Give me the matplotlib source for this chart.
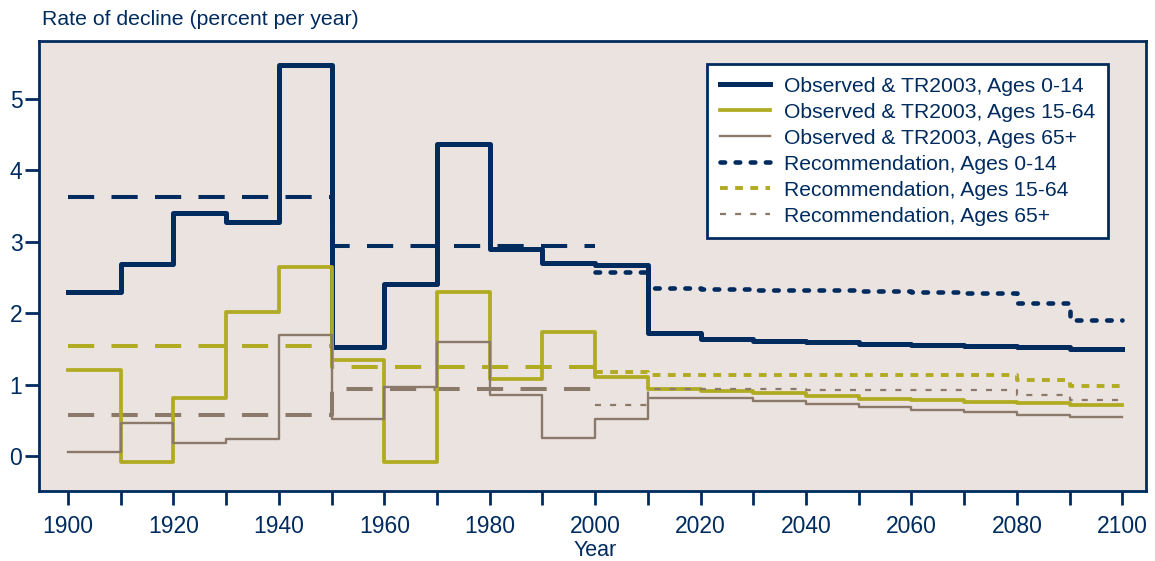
import numpy as np
import matplotlib.pyplot as plt

navy = "#002b5f"
olive = "#b1ab21"
taupe = "#8b7a69"
bg = "#ebe3e0"

plt.rcParams["font.family"] = ["Liberation Sans", "DejaVu Sans"]

# decade start years, observed & TR2003 rates (percent per year)
years_obs = list(range(1900, 2100, 10))
obs_0_14 = [2.29, 2.68, 3.40, 3.27, 5.47, 1.53, 2.41, 4.36, 2.89, 2.70,
            2.67, 1.72, 1.64, 1.61, 1.60, 1.57, 1.55, 1.54, 1.52, 1.50]
obs_15_64 = [1.21, -0.08, 0.81, 2.02, 2.65, 1.34, -0.08, 2.30, 1.08, 1.73,
             1.11, 0.94, 0.91, 0.88, 0.84, 0.80, 0.78, 0.76, 0.74, 0.72]
obs_65 = [0.06, 0.46, 0.18, 0.24, 1.70, 0.52, 0.97, 1.60, 0.85, 0.26,
          0.52, 0.81, 0.81, 0.77, 0.73, 0.69, 0.65, 0.62, 0.58, 0.55]

# recommendation, from 2000 on
years_rec = list(range(2000, 2100, 10))
rec_0_14 = [2.57, 2.35, 2.34, 2.33, 2.32, 2.31, 2.30, 2.28, 2.14, 1.91]
rec_15_64 = [1.18, 1.14, 1.14, 1.14, 1.14, 1.14, 1.14, 1.14, 1.07, 0.98]
rec_65 = [0.71, 0.94, 0.94, 0.94, 0.93, 0.93, 0.93, 0.93, 0.86, 0.78]

# period averages (dashed)
avg_years = [1900, 1950, 2000]
avg_0_14 = [3.63, 2.94]
avg_15_64 = [1.54, 1.25]
avg_65 = [0.57, 0.94]


def ext(v):
    # repeat last value so steps-post draws the final period
    return list(v) + [v[-1]]


obs_x = years_obs + [2100]
rec_x = years_rec + [2100]

fig = plt.figure(figsize=(11.55, 5.61), dpi=100)
ax = fig.add_axes([0.0338, 0.1245, 0.9584, 0.8030])
ax.set_facecolor(bg)

dash = dict(drawstyle="steps-post", dashes=(6.5, 4.3), dash_capstyle="butt")
ax.plot(avg_years, ext(avg_0_14), color=navy, lw=2.9, **dash)
ax.plot(avg_years, ext(avg_15_64), color=olive, lw=2.9, **dash)
ax.plot(avg_years, ext(avg_65), color=taupe, lw=2.9, **dash)

ax.plot(obs_x, ext(obs_0_14), drawstyle="steps-post", color=navy, lw=3.6,
        label="Observed & TR2003, Ages 0-14")
ax.plot(obs_x, ext(obs_15_64), drawstyle="steps-post", color=olive, lw=2.7,
        label="Observed & TR2003, Ages 15-64")
ax.plot(obs_x, ext(obs_65), drawstyle="steps-post", color=taupe, lw=1.7,
        label="Observed & TR2003, Ages 65+")

ax.plot(rec_x, ext(rec_0_14), drawstyle="steps-post", color=navy, lw=3.3,
        dashes=(1.0, 2.3), dash_capstyle="round", label="Recommendation, Ages 0-14")
ax.plot(rec_x, ext(rec_15_64), drawstyle="steps-post", color=olive, lw=2.8,
        dashes=(2.0, 1.9), dash_capstyle="butt", label="Recommendation, Ages 15-64")
ax.plot(rec_x, ext(rec_65), drawstyle="steps-post", color=taupe, lw=1.6,
        dashes=(2.7, 4.1), dash_capstyle="butt", label="Recommendation, Ages 65+")

ax.set_xlim(1894.5, 2104.5)
ax.set_ylim(-0.49, 5.81)
ax.set_xticks(range(1900, 2101, 10))
ax.set_xticklabels([str(y) if y % 20 == 0 else "" for y in range(1900, 2101, 10)])
ax.set_yticks(range(0, 6))

for s in ax.spines.values():
    s.set_color(navy)
    s.set_linewidth(2)
ax.tick_params(colors=navy, labelcolor=navy, width=2, length=10, labelsize=16.5)
ax.tick_params(axis="x", pad=7)
ax.tick_params(axis="y", pad=2)

ax.set_xlabel("Year", color=navy, fontsize=15.5)
ax.xaxis.set_label_coords((2000 - 1894.5) / 210.0, -0.108)
fig.text(0.036, 0.965, "Rate of decline (percent per year)", color=navy, fontsize=15.3,
         va="center", ha="left")

leg = ax.legend(loc="upper right", bbox_to_anchor=(0.9657, 0.948), fontsize=15.2,
                frameon=True, fancybox=False, handlelength=2.4, handletextpad=0.65,
                labelspacing=0.33, borderpad=0.6, borderaxespad=0)
leg.get_frame().set_edgecolor(navy)
leg.get_frame().set_linewidth(2)
leg.get_frame().set_facecolor("white")
leg.get_frame().set_alpha(1)
for t in leg.get_texts():
    t.set_color(navy)

fig.savefig("out.png", dpi=100)
